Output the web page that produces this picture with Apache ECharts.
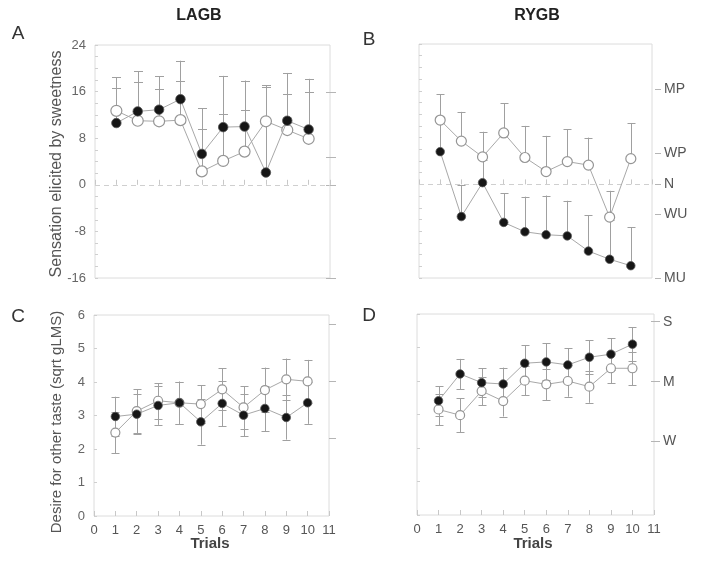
<!DOCTYPE html>
<html>
<head>
<meta charset="utf-8">
<script src="https://cdn.jsdelivr.net/npm/echarts@6/dist/echarts.min.js"></script>
<style>html,body{margin:0;padding:0;background:#fff;}#c{width:701px;height:564px;}</style>
</head>
<body>
<div id="c"></div>
<script>
// ---------- data ----------
const trials = [1, 2, 3, 4, 5, 6, 7, 8, 9, 10];
const xTickLabels = [0, 1, 2, 3, 4, 5, 6, 7, 8, 9, 10, 11];

// Panel A: LAGB, sensation elicited by sweetness (mean, top of error bar)
const lagbSensOpen      = [12.7, 11.0, 10.9, 11.1, 2.3, 4.1, 5.7, 10.9, 9.4, 7.9];
const lagbSensOpenTop   = [18.5, 17.7, 16.4, 17.9, 9.5, 12.1, 12.9, 16.8, 15.6, 15.9];
const lagbSensFilled    = [10.6, 12.6, 12.9, 14.7, 5.3, 9.9, 10.0, 2.1, 11.0, 9.5];
const lagbSensFilledTop = [16.7, 19.5, 18.6, 21.3, 13.1, 18.7, 17.9, 17.1, 19.2, 18.2];

// Panel B: RYGB, sensation elicited by sweetness
const rygbSensOpen      = [11.0, 7.4, 4.7, 8.8, 4.6, 2.2, 3.9, 3.3, -5.6, 4.4];
const rygbSensOpenTop   = [15.4, 12.4, 9.0, 13.9, 10.0, 8.3, 9.4, 8.0, -1.1, 10.5];
const rygbSensFilled    = [5.6, -5.5, 0.3, -6.5, -8.1, -8.6, -8.8, -11.4, -12.8, -13.9];
const rygbSensFilledTop = [10.5, -0.1, 4.2, -1.5, -2.1, -1.9, -2.8, -5.3, -6.0, -7.3];

// Panel C: LAGB, desire for other taste (mean, +/- error)
const lagbDesireOpen      = [2.49, 3.13, 3.44, 3.38, 3.34, 3.78, 3.24, 3.76, 4.08, 4.02];
const lagbDesireOpenErr   = [0.62, 0.65, 0.53, 0.63, 0.57, 0.63, 0.63, 0.67, 0.62, 0.64];
const lagbDesireFilled    = [2.97, 3.04, 3.30, 3.38, 2.81, 3.36, 3.01, 3.21, 2.94, 3.38];
const lagbDesireFilledErr = [0.59, 0.60, 0.58, 0.63, 0.68, 0.68, 0.63, 0.68, 0.66, 0.63];

// Panel D: RYGB, desire for other taste
const rygbDesireOpen      = [3.15, 2.98, 3.70, 3.40, 4.01, 3.90, 4.00, 3.83, 4.38, 4.38];
const rygbDesireOpenErr   = [0.47, 0.51, 0.42, 0.46, 0.43, 0.47, 0.47, 0.48, 0.45, 0.50];
const rygbDesireFilled    = [3.41, 4.21, 3.95, 3.91, 4.53, 4.57, 4.48, 4.71, 4.80, 5.10];
const rygbDesireFilledErr = [0.44, 0.45, 0.43, 0.49, 0.54, 0.55, 0.50, 0.51, 0.47, 0.50];

// axis ticks / labels
const sensTicks = [-16, -8, 0, 8, 16, 24];
const hedonicLabels = ['MP', 'WP', 'N', 'WU', 'MU'];
const hedonicValues = [16.2, 5.3, 0, -5.1, -16];
const hedonicValuesA = [15.9, 4.75, 0, -16];
const desireTicks = [0, 1, 2, 3, 4, 5, 6];
const intensityLabels = ['S', 'M', 'W'];
const intensityValuesC = [5.72, 4.03, 2.32];
const intensityValuesD = [5.77, 3.98, 2.19];

// ---------- chart ----------
const FONT = "'Liberation Sans', Arial, sans-serif";
const chart = echarts.init(document.getElementById('c'));

const grids = [
  { left: 95, top: 45, width: 235, height: 233 },
  { left: 419, top: 44, width: 233, height: 234 },
  { left: 94, top: 315, width: 235, height: 201 },
  { left: 417, top: 314, width: 237, height: 201 }
].map(g => Object.assign({ show: true, borderColor: '#dcdcdc', borderWidth: 1, backgroundColor: 'transparent', outerBoundsMode: 'none', containLabel: false }, g));

function xAx(i, labels) {
  return {
    type: 'value', gridIndex: i, min: xTickLabels[0], max: xTickLabels[xTickLabels.length - 1], interval: 1,
    axisLine: { show: false },
    axisTick: { show: true, inside: true, length: 5, lineStyle: { color: '#c8c8c8' } },
    splitLine: { show: false },
    axisLabel: { show: labels, color: '#555', fontSize: 13, fontFamily: FONT, margin: 8 }
  };
}

function leftAx(i, min, max, interval, labels, minor) {
  return {
    type: 'value', gridIndex: i, position: 'left', min: min, max: max, interval: interval,
    axisLine: { show: false },
    axisTick: { show: true, inside: true, length: 3, lineStyle: { color: '#cfcfcf' } },
    minorTick: { show: !!minor, splitNumber: minor || 5, length: 3, lineStyle: { color: '#cfcfcf' } },
    splitLine: { show: false },
    axisLabel: { show: labels, color: '#666', fontSize: 13, fontFamily: FONT, margin: 9 }
  };
}

function rightAx(i, min, max, values, names, offset, len) {
  return {
    type: 'value', gridIndex: i, position: 'right', min: min, max: max, offset: offset,
    axisLine: { show: false },
    axisTick: { show: true, inside: false, length: len, customValues: values, lineStyle: { color: '#b5b5b5' } },
    splitLine: { show: false },
    axisLabel: {
      show: !!names, customValues: values, color: '#555', fontSize: 14, fontFamily: FONT, margin: len + 3,
      formatter: function (v) {
        if (!names) return '';
        let best = 0, bd = 1e9;
        values.forEach((x, k) => { const d = Math.abs(x - v); if (d < bd) { bd = d; best = k; } });
        return names[best];
      }
    }
  };
}

const xAxis = [xAx(0, false), xAx(1, false), xAx(2, true), xAx(3, true)];
const yAxis = [
  leftAx(0, sensTicks[0], sensTicks[sensTicks.length - 1], 8, true, 4),
  rightAx(0, sensTicks[0], sensTicks[sensTicks.length - 1], hedonicValuesA, null, -4, 10),
  leftAx(1, sensTicks[0], sensTicks[sensTicks.length - 1], 2, false, 0),
  rightAx(1, sensTicks[0], sensTicks[sensTicks.length - 1], hedonicValues, hedonicLabels, 3, 6),
  leftAx(2, desireTicks[0], desireTicks[desireTicks.length - 1], 1, true, 0),
  rightAx(2, desireTicks[0], desireTicks[desireTicks.length - 1], intensityValuesC, null, 0, 7),
  leftAx(3, desireTicks[0], desireTicks[desireTicks.length - 1], 1, false, 0),
  rightAx(3, desireTicks[0], desireTicks[desireTicks.length - 1], intensityValuesD, intensityLabels, -3, 9)
];

function errSeries(gi, rows, both, capW) {
  return {
    type: 'custom', xAxisIndex: gi, yAxisIndex: gi * 2, z: 2, silent: true,
    data: rows,
    encode: { x: 0, y: [1, 2] },
    renderItem: function (params, api) {
      const x = api.value(0), lo = api.value(1), hi = api.value(2);
      const p1 = api.coord([x, lo]), p2 = api.coord([x, hi]);
      const st = { stroke: '#a0a0a0', lineWidth: 1 };
      const cx = Math.round(p1[0]) + 0.5;
      const ch = [
        { type: 'line', shape: { x1: cx, y1: p1[1], x2: cx, y2: p2[1] }, style: st },
        { type: 'line', shape: { x1: cx - capW / 2, y1: Math.round(p2[1]) + 0.5, x2: cx + capW / 2, y2: Math.round(p2[1]) + 0.5 }, style: st }
      ];
      if (both) ch.push({ type: 'line', shape: { x1: cx - capW / 2, y1: Math.round(p1[1]) + 0.5, x2: cx + capW / 2, y2: Math.round(p1[1]) + 0.5 }, style: st });
      return { type: 'group', children: ch };
    }
  };
}

function lineSeries(gi, vals, filled, size, zeroLine) {
  const s = {
    type: 'line', xAxisIndex: gi, yAxisIndex: gi * 2, z: filled ? 5 : 4,
    data: trials.map((t, k) => [t, vals[k]]),
    symbol: 'circle', symbolSize: size, showSymbol: true,
    lineStyle: { color: '#a8a8a8', width: 1 },
    itemStyle: filled ? { color: '#161616', borderColor: '#555', borderWidth: 0.8 } : { color: '#ffffff', borderColor: '#959595', borderWidth: 1.2 },
    silent: true
  };
  if (zeroLine) {
    s.markLine = {
      silent: true, symbol: 'none', label: { show: false }, z: 1,
      lineStyle: { color: '#cfcfcf', type: [5, 4], width: 1 },
      data: [{ yAxis: 0 }]
    };
  }
  return s;
}

const topRows = (vals, tops) => trials.map((t, k) => [t, vals[k], tops[k]]);
const pmRows = (vals, errs) => trials.map((t, k) => [t, vals[k] - errs[k], vals[k] + errs[k]]);

const series = [
  errSeries(0, topRows(lagbSensOpen, lagbSensOpenTop), false, 9),
  errSeries(0, topRows(lagbSensFilled, lagbSensFilledTop), false, 9),
  lineSeries(0, lagbSensOpen, false, 11, true),
  lineSeries(0, lagbSensFilled, true, 9.5, false),

  errSeries(1, topRows(rygbSensOpen, rygbSensOpenTop), false, 8),
  errSeries(1, topRows(rygbSensFilled, rygbSensFilledTop), false, 8),
  lineSeries(1, rygbSensOpen, false, 10, true),
  lineSeries(1, rygbSensFilled, true, 8.5, false),

  errSeries(2, pmRows(lagbDesireOpen, lagbDesireOpenErr), true, 8),
  errSeries(2, pmRows(lagbDesireFilled, lagbDesireFilledErr), true, 8),
  lineSeries(2, lagbDesireOpen, false, 9, false),
  lineSeries(2, lagbDesireFilled, true, 8.5, false),

  errSeries(3, pmRows(rygbDesireOpen, rygbDesireOpenErr), true, 8),
  errSeries(3, pmRows(rygbDesireFilled, rygbDesireFilledErr), true, 8),
  lineSeries(3, rygbDesireOpen, false, 9, false),
  lineSeries(3, rygbDesireFilled, true, 8.5, false)
];

function txt(x, y, text, size, opts) {
  return Object.assign({
    type: 'text', x: x, y: y, silent: true,
    style: Object.assign({ text: text, fontSize: size, fontFamily: FONT, fill: '#333', align: 'center', verticalAlign: 'middle' }, (opts && opts.style) || {})
  }, (opts && opts.el) || {});
}

const graphic = [
  txt(18, 34, 'A', 19),
  txt(369, 40, 'B', 19),
  txt(18, 317, 'C', 19),
  txt(369, 316, 'D', 19),
  txt(199, 16, 'LAGB', 16, { style: { fontWeight: 'bold', fill: '#222' } }),
  txt(537, 16, 'RYGB', 16, { style: { fontWeight: 'bold', fill: '#222' } }),
  txt(57, 164, 'Sensation elicited by sweetness', 16, { style: { fill: '#555' }, el: { rotation: Math.PI / 2 } }),
  txt(57, 422, 'Desire for other taste (sqrt gLMS)', 15, { style: { fill: '#555' }, el: { rotation: Math.PI / 2 } }),
  txt(210, 544, 'Trials', 15, { style: { fontWeight: 'bold', fill: '#444' } }),
  txt(533, 544, 'Trials', 15, { style: { fontWeight: 'bold', fill: '#444' } })
];

chart.setOption({
  animation: false,
  backgroundColor: '#fff',
  grid: grids,
  xAxis: xAxis,
  yAxis: yAxis,
  series: series,
  graphic: graphic
});
</script>
</body>
</html>
